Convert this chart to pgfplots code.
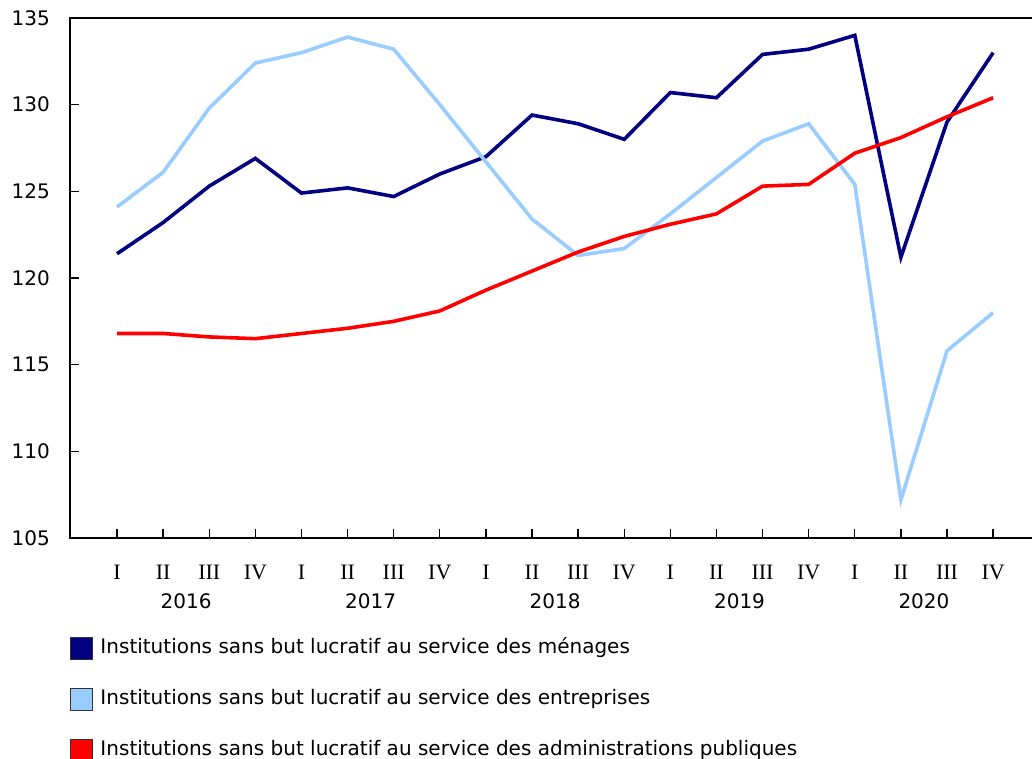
\documentclass[border=0pt]{standalone}
\usepackage{pgfplots}
\pgfplotsset{compat=1.18}
\usepackage{fontspec}
\setmainfont{DejaVu Sans}
\newfontfamily\serifnum{Liberation Serif}
\definecolor{navyc}{RGB}{0,0,128}
\definecolor{lightb}{RGB}{153,204,255}
\definecolor{redc}{RGB}{255,0,0}
\begin{document}
\begin{tikzpicture}
\useasboundingbox (-70pt,-220pt) rectangle (962pt,538pt);
\begin{axis}[
  scale only axis,
  width=966pt, height=520pt,
  xmin=-1.02, xmax=19.93,
  ymin=105, ymax=135,
  ytick={105,110,...,135},
  xtick={0,...,19},
  xticklabels={I,II,III,IV,I,II,III,IV,I,II,III,IV,I,II,III,IV,I,II,III,IV},
  tick align=inside,
  major tick length=9pt,
  axis line style={line width=1.6pt, black},
  tick style={line width=1.3pt, black},
  xtick pos=bottom, ytick pos=left,
  /pgf/number format/assume math mode=true,
  yticklabel style={font=\fontsize{20}{24}\selectfont, anchor=east, inner sep=0pt, xshift=-20pt},
  xticklabel style={font=\serifnum\fontsize{22}{26}\selectfont, anchor=base, inner sep=0pt, yshift=-41.5pt},
  extra x ticks={1.5,5.5,9.5,13.5,17.5},
  extra x tick labels={2016,2017,2018,2019,2020},
  extra x tick style={major tick length=0pt, tick style={draw=none},
    xticklabel style={font=\fontsize{20}{24}\selectfont, anchor=base, inner sep=0pt, yshift=-29pt}},
  legend style={at={(0,-0.1904)}, anchor=north west, draw=none, fill=none,
    inner sep=0pt, row sep=28pt,
    font=\fontsize{20}{24}\selectfont,
    nodes={inner sep=0pt, text height=15pt, text depth=5pt}},
  legend cell align=left,
  every axis plot/.append style={line width=3.6pt, line join=miter},
]
\addplot[color=navyc, legend image code/.code={\draw[fill=navyc, draw=black!80, line width=1pt] (0pt,-11pt) rectangle (22pt,11pt); \path (28pt,0pt);}] coordinates {
(0,121.4) (1,123.2) (2,125.3) (3,126.9) (4,124.9) (5,125.2) (6,124.7) (7,126.0) (8,127.0) (9,129.4)
(10,128.9) (11,128.0) (12,130.7) (13,130.4) (14,132.9) (15,133.2) (16,134.0) (17,121.2) (18,129.0) (19,133.0)};
\addlegendentry{Institutions sans but lucratif au service des ménages}
\addplot[color=lightb, legend image code/.code={\draw[fill=lightb, draw=black!80, line width=1pt] (0pt,-11pt) rectangle (22pt,11pt); \path (28pt,0pt);}] coordinates {
(0,124.1) (1,126.1) (2,129.8) (3,132.4) (4,133.0) (5,133.9) (6,133.2) (7,130.0) (8,126.7) (9,123.4)
(10,121.3) (11,121.7) (12,123.7) (13,125.8) (14,127.9) (15,128.9) (16,125.4) (17,107.2) (18,115.8) (19,118.0)};
\addlegendentry{Institutions sans but lucratif au service des entreprises}
\addplot[color=redc, legend image code/.code={\draw[fill=redc, draw=black!80, line width=1pt] (0pt,-11pt) rectangle (22pt,11pt); \path (28pt,0pt);}] coordinates {
(0,116.8) (1,116.8) (2,116.6) (3,116.5) (4,116.8) (5,117.1) (6,117.5) (7,118.1) (8,119.3) (9,120.4)
(10,121.5) (11,122.4) (12,123.1) (13,123.7) (14,125.3) (15,125.4) (16,127.2) (17,128.1) (18,129.3) (19,130.4)};
\addlegendentry{Institutions sans but lucratif au service des administrations publiques}
\end{axis}
\end{tikzpicture}
\end{document}
